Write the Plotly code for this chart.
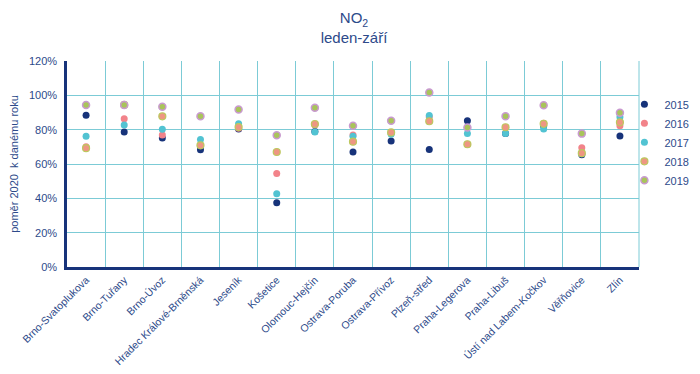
import plotly.graph_objects as go

stations = ["Brno-Svatoplukova", "Brno-Tuřany", "Brno-Úvoz", "Hradec Králové-Brněnská",
            "Jeseník", "Košetice", "Olomouc-Hejčín", "Ostrava-Poruba", "Ostrava-Přívoz",
            "Plzeň-střed", "Praha-Legerova", "Praha-Libuš", "Ústí nad Labem-Kočkov",
            "Věřňovice", "Zlín"]

v2015 = [0.884, 0.786, 0.751, 0.683, 0.804, 0.375, 0.790, 0.670, 0.734, 0.685, 0.852, 0.778, 0.821, 0.654, 0.763]
v2016 = [0.700, 0.864, 0.769, 0.709, 0.808, 0.544, 0.827, 0.769, 0.780, 0.874, 0.715, 0.812, 0.837, 0.695, 0.823]
v2017 = [0.761, 0.827, 0.802, 0.742, 0.835, 0.427, 0.786, 0.761, 0.773, 0.882, 0.777, 0.777, 0.804, 0.660, 0.874]
v2018 = [0.692, 0.944, 0.878, 0.709, 0.815, 0.670, 0.833, 0.730, 0.784, 0.849, 0.715, 0.814, 0.834, 0.663, 0.843]
v2019 = [0.944, 0.944, 0.934, 0.878, 0.918, 0.767, 0.928, 0.823, 0.852, 1.016, 0.812, 0.878, 0.942, 0.777, 0.899]

years = ["2015", "2016", "2017", "2018", "2019"]
values = [v2015, v2016, v2017, v2018, v2019]
fills = ["#17337a", "#f2838a", "#52c3d2", "#ee9682", "#a9c45a"]
edges = ["#17337a", "#f2838a", "#52c3d2", "#bcc85e", "#c99ad0"]
edgew = [0, 0, 0, 1.2, 1.5]

text_col = "#2d4a8a"
grid_col = "#7ccbd6"

fig = go.Figure()
for y, vals, fc, ec, ew in zip(years, values, fills, edges, edgew):
    fig.add_trace(go.Scatter(
        x=stations, y=vals, mode="markers", name=y,
        marker=dict(size=7, color=fc, line=dict(color=ec, width=ew)),
    ))

fig.update_layout(
    width=692, height=366,
    margin=dict(l=59, r=61, t=53, b=107, autoexpand=False),
    paper_bgcolor="white", plot_bgcolor="white",
    font=dict(family="Liberation Sans, Arial, sans-serif", color=text_col, size=11),
    title=dict(text="NO<sub>2</sub><br>leden-září", x=0.5, xanchor="center",
               y=0.958, yanchor="top", font=dict(size=15, color=text_col)),
    showlegend=True,
    legend=dict(x=0.9745, xanchor="left", y=0.86, yanchor="top",
                font=dict(size=11, color=text_col), itemwidth=30,
                bgcolor="rgba(0,0,0,0)"),
)
fig.update_xaxes(
    type="category", tickangle=-45, tickson="boundaries",
    showgrid=True, gridcolor=grid_col, gridwidth=1,
    showline=True, linecolor="#17337a", linewidth=2.5,
    ticks="", tickfont=dict(size=10.5, color=text_col),
    range=[-0.5, 14.5], mirror=False, automargin=False,
)
fig.update_yaxes(
    range=[0, 1.2], dtick=0.2, tickformat=".0%",
    showgrid=True, gridcolor=grid_col, gridwidth=1,
    showline=True, linecolor="#17337a", linewidth=2.5,
    zeroline=False, ticks="", automargin=False, ticklabelstandoff=5,
    tickfont=dict(size=11, color=text_col),
    title=dict(text="poměr 2020  k danému roku", font=dict(size=11, color=text_col), standoff=22),
)
fig.add_shape(type="line", xref="paper", yref="paper", x0=1, x1=1, y0=0, y1=1,
              line=dict(color=grid_col, width=1), layer="below")

fig.write_html("out.html")
